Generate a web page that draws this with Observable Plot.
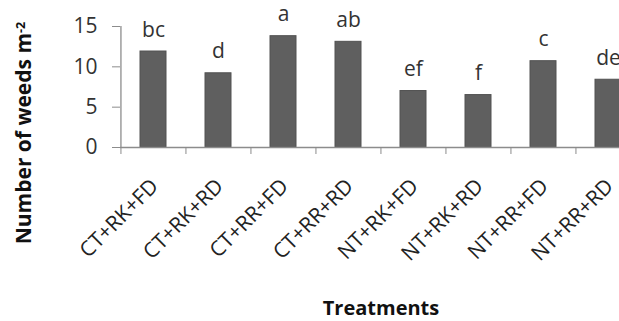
<!DOCTYPE html>
<html>
<head>
<meta charset="utf-8">
<script src="https://cdn.jsdelivr.net/npm/d3@7"></script>
<script src="https://cdn.jsdelivr.net/npm/@observablehq/plot@0.6"></script>
<style>
  html, body { margin: 0; padding: 0; background: white; overflow: hidden; }
</style>
</head>
<body>
<div id="chart"></div>
<script>
const categories = ["CT+RK+FD", "CT+RK+RD", "CT+RR+FD", "CT+RR+RD", "NT+RK+FD", "NT+RK+RD", "NT+RR+FD", "NT+RR+RD"];
const values = [11.9, 9.2, 13.8, 13.1, 7.0, 6.5, 10.7, 8.4];
const letters = ["bc", "d", "a", "ab", "ef", "f", "c", "de"];
const yTicks = [0, 5, 10, 15];
const yTitle = "Number of weeds m";
const yTitleSup = "-2";
const xTitle = "Treatments";

const data = categories.map((c, i) => ({c, v: values[i], l: letters[i]}));

const W = 619, H = 321;
const mL = 120, mR = -22, mT = 26, mB = 174;
const step = (W - mR - mL) / categories.length;
const axisColor = "#8c8c8c";
const font = "'Open Sans', 'Noto Sans', sans-serif";

const chart = Plot.plot({
  width: W,
  height: H,
  marginLeft: mL,
  marginRight: mR,
  marginTop: mT,
  marginBottom: mB,
  style: {fontFamily: font, background: "white", overflow: "hidden", color: "#333"},
  x: {domain: categories, paddingInner: 0.6, paddingOuter: 0.3, axis: null},
  y: {domain: [0, 15], axis: null},
  marks: [
    Plot.barY(data, {x: "c", y: "v", fill: "#5f5f5f", stroke: "#525252", strokeWidth: 1}),
    Plot.ruleY([0], {stroke: axisColor, strokeWidth: 1.3}),
    Plot.ruleX([categories[0]], {x: d => d, y1: 0, y2: 15, dx: -step / 2, stroke: axisColor, strokeWidth: 1.3}),
    Plot.axisY({ticks: yTicks, tickSize: 8, tickPadding: 15, fontSize: 21, stroke: axisColor, fill: "#333", label: null}),
    Plot.axisX({tickSize: 7, tickFormat: () => "", dx: -step / 2, stroke: axisColor, label: null}),
    Plot.text(data, {x: "c", frameAnchor: "bottom", text: "c", rotate: -45, textAnchor: "end", dx: 6, dy: 40, fontSize: 21, fill: "#222"}),
    Plot.text(data, {x: "c", y: "v", text: "l", dy: -15, lineAnchor: "bottom", fontSize: 21, fill: "#333"}),
    Plot.text([yTitle + yTitleSup], {frameAnchor: "left", textAnchor: "middle", rotate: -90, dx: -96, dy: 46, fontSize: 21, fontWeight: "bold", fill: "#111"}),
    Plot.text([xTitle], {frameAnchor: "bottom", textAnchor: "middle", dy: 167, fontSize: 20, fontWeight: "bold", fill: "#111"})
  ]
});

// superscript for the unit
chart.querySelectorAll("text").forEach(t => {
  if (t.textContent === yTitle + yTitleSup) {
    t.textContent = yTitle;
    const sup = document.createElementNS("http://www.w3.org/2000/svg", "tspan");
    sup.setAttribute("dy", "-0.5em");
    sup.setAttribute("font-size", "0.6em");
    sup.textContent = yTitleSup;
    t.appendChild(sup);
  }
});

document.getElementById("chart").appendChild(chart);
</script>
</body>
</html>
